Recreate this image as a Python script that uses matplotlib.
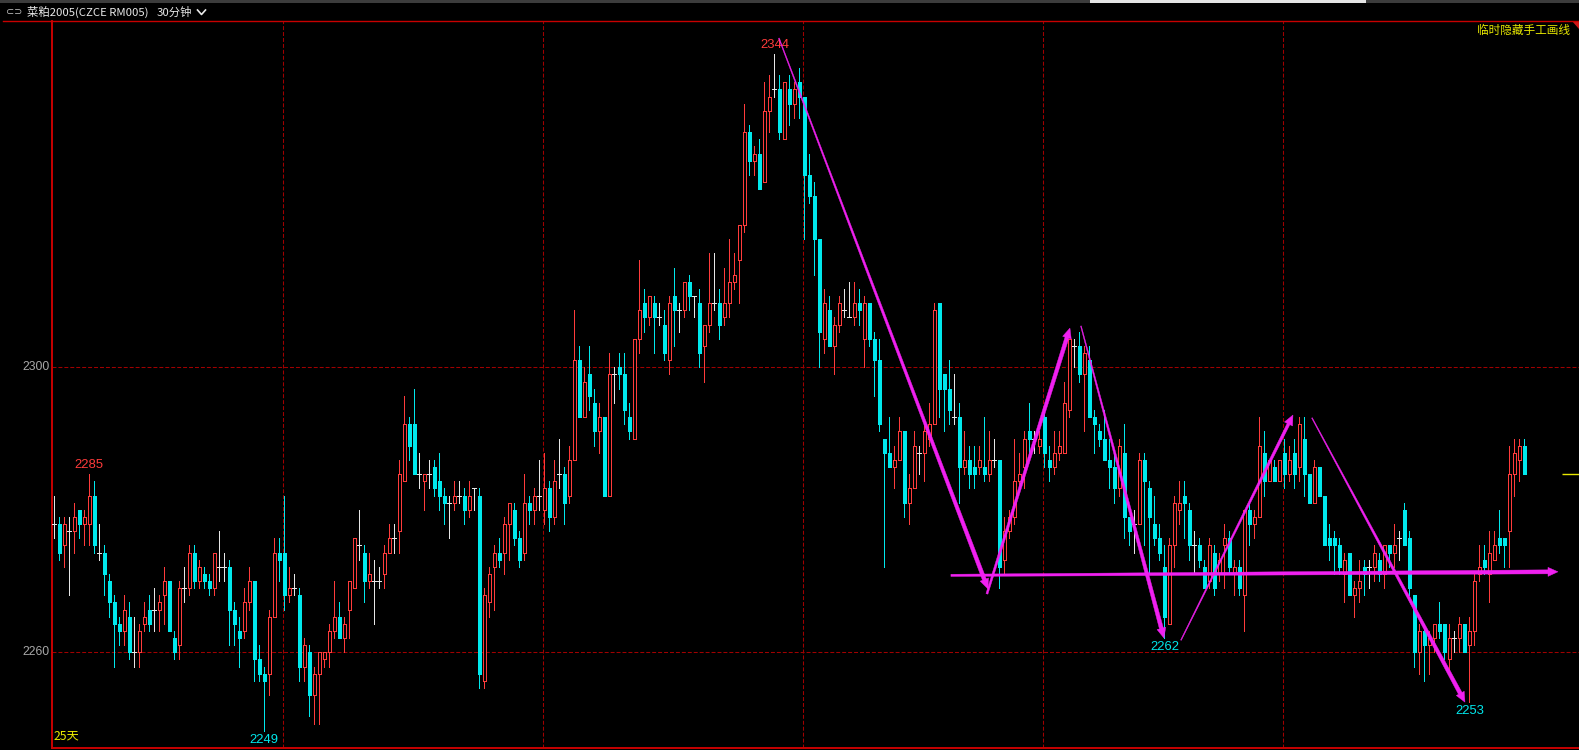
import numpy as np
import matplotlib
matplotlib.use("Agg")
import matplotlib.pyplot as plt
from matplotlib.patches import Rectangle, Polygon

W, H = 1579, 750
CJK = ["Noto Sans CJK SC", "DejaVu Sans"]

# ── OHLC, 30 min bars ──────────────────────────────────────────────────────────
opens = [
    2278, 2278, 2275, 2277, 2277, 2280, 2278, 2278, 2282, 2274, 2274, 2270, 2267, 2264, 2263, 2265,
    2260, 2260, 2264, 2266, 2266, 2266, 2268, 2270, 2262, 2261, 2269, 2269, 2274, 2270, 2271, 2270,
    2269, 2272, 2272, 2272, 2266, 2263, 2263, 2267, 2270, 2259, 2257, 2257, 2265, 2274, 2274, 2268,
    2269, 2268, 2258, 2260, 2254, 2257, 2259, 2260, 2263, 2265, 2262, 2266, 2269, 2275, 2274, 2270,
    2270, 2270, 2271, 2274, 2276, 2277, 2284, 2292, 2292, 2285, 2284, 2285, 2286, 2284, 2282, 2281,
    2281, 2282, 2282, 2280, 2283, 2282, 2256, 2267, 2272, 2274, 2274, 2278, 2280, 2276, 2274, 2281,
    2280, 2282, 2280, 2283, 2279, 2285, 2285, 2282, 2287, 2301, 2293, 2299, 2295, 2291, 2293, 2282,
    2299, 2300, 2299, 2293, 2290, 2304, 2309, 2307, 2309, 2307, 2306, 2301, 2310, 2308, 2308, 2312,
    2310, 2309, 2303, 2306, 2309, 2309, 2307, 2309, 2312, 2315, 2320, 2333, 2329, 2330, 2326, 2336,
    2339, 2339, 2332, 2339, 2337, 2340, 2338, 2327, 2324, 2318, 2304, 2308, 2303, 2306, 2308, 2307,
    2307, 2309, 2304, 2309, 2304, 2301, 2290, 2288, 2286, 2287, 2291, 2281, 2283, 2288, 2288, 2290,
    2292, 2309, 2299, 2297, 2293, 2293, 2286, 2287, 2286, 2286, 2286, 2285, 2287, 2287, 2273, 2277,
    2279, 2284, 2286, 2291, 2290, 2289, 2293, 2287, 2286, 2288, 2288, 2294, 2303, 2303, 2299, 2301,
    2293, 2291, 2290, 2287, 2286, 2283, 2288, 2279, 2278, 2278, 2287, 2283, 2278, 2276, 2272, 2264,
    2275, 2280, 2282, 2280, 2275, 2275, 2272, 2270, 2274, 2271, 2275, 2276, 2271, 2272, 2268, 2280,
    2278, 2279, 2288, 2284, 2286, 2284, 2288, 2285, 2288, 2286, 2290, 2285, 2281, 2286, 2282, 2276,
    2276, 2275, 2271, 2274, 2268, 2269, 2272, 2272, 2272, 2273, 2271, 2275, 2274, 2276, 2280, 2276,
    2268, 2260, 2263, 2261, 2262, 2264, 2264, 2259, 2262, 2262, 2264, 2261, 2263, 2271, 2273, 2271,
    2273, 2276, 2276, 2277, 2285, 2287, 2289,
]
highs = [
    2282, 2279, 2279, 2279, 2281, 2280, 2280, 2285, 2284, 2278, 2275, 2271, 2268, 2265, 2268, 2267,
    2265, 2264, 2267, 2268, 2269, 2268, 2272, 2270, 2263, 2270, 2272, 2275, 2275, 2273, 2272, 2271,
    2274, 2277, 2274, 2273, 2267, 2265, 2269, 2272, 2270, 2261, 2258, 2266, 2276, 2276, 2282, 2272,
    2271, 2269, 2262, 2261, 2258, 2260, 2260, 2264, 2270, 2267, 2265, 2270, 2276, 2280, 2275, 2274,
    2273, 2272, 2275, 2278, 2278, 2287, 2296, 2293, 2297, 2288, 2285, 2287, 2287, 2288, 2283, 2282,
    2284, 2284, 2283, 2284, 2283, 2283, 2269, 2272, 2275, 2276, 2279, 2281, 2281, 2277, 2285, 2282,
    2283, 2287, 2288, 2284, 2287, 2290, 2286, 2289, 2308, 2303, 2300, 2303, 2297, 2295, 2293, 2302,
    2300, 2302, 2302, 2295, 2304, 2315, 2311, 2310, 2310, 2309, 2308, 2310, 2314, 2309, 2312, 2313,
    2310, 2311, 2306, 2316, 2316, 2311, 2314, 2318, 2316, 2320, 2337, 2334, 2331, 2332, 2340, 2341,
    2344, 2341, 2340, 2341, 2340, 2342, 2338, 2330, 2326, 2318, 2311, 2310, 2307, 2310, 2311, 2312,
    2312, 2311, 2310, 2309, 2305, 2304, 2290, 2293, 2289, 2293, 2291, 2285, 2291, 2289, 2292, 2295,
    2309, 2309, 2299, 2301, 2299, 2295, 2291, 2289, 2289, 2289, 2293, 2291, 2290, 2287, 2279, 2280,
    2290, 2288, 2291, 2295, 2291, 2291, 2294, 2289, 2291, 2291, 2298, 2304, 2304, 2305, 2303, 2303,
    2294, 2292, 2294, 2290, 2288, 2290, 2292, 2279, 2280, 2288, 2288, 2284, 2282, 2278, 2275, 2276,
    2282, 2284, 2284, 2281, 2277, 2276, 2273, 2276, 2275, 2274, 2278, 2277, 2273, 2273, 2280, 2281,
    2280, 2293, 2291, 2287, 2287, 2287, 2290, 2289, 2290, 2293, 2293, 2285, 2287, 2286, 2282, 2278,
    2277, 2276, 2274, 2274, 2270, 2273, 2273, 2273, 2275, 2274, 2275, 2275, 2278, 2277, 2281, 2277,
    2268, 2264, 2264, 2263, 2264, 2267, 2264, 2264, 2263, 2265, 2264, 2265, 2271, 2275, 2275, 2277,
    2277, 2280, 2276, 2289, 2290, 2290, 2290,
]
lows = [
    2276, 2273, 2272, 2268, 2274, 2276, 2275, 2275, 2274, 2273, 2268, 2265, 2258, 2261, 2261, 2259,
    2258, 2258, 2263, 2263, 2263, 2263, 2264, 2263, 2259, 2259, 2267, 2268, 2269, 2269, 2269, 2268,
    2268, 2270, 2270, 2261, 2261, 2258, 2262, 2266, 2256, 2256, 2249, 2254, 2265, 2270, 2266, 2267,
    2268, 2256, 2256, 2251, 2250, 2250, 2258, 2258, 2262, 2262, 2260, 2262, 2269, 2273, 2267, 2269,
    2264, 2269, 2269, 2274, 2274, 2274, 2284, 2287, 2285, 2283, 2280, 2283, 2282, 2280, 2278, 2276,
    2280, 2281, 2278, 2279, 2280, 2255, 2255, 2265, 2266, 2272, 2271, 2273, 2275, 2272, 2273, 2278,
    2278, 2280, 2278, 2277, 2278, 2283, 2278, 2281, 2287, 2293, 2293, 2294, 2289, 2288, 2282, 2282,
    2295, 2297, 2292, 2290, 2290, 2302, 2305, 2306, 2302, 2306, 2301, 2299, 2303, 2305, 2307, 2308,
    2307, 2300, 2298, 2305, 2308, 2304, 2306, 2307, 2311, 2309, 2319, 2327, 2327, 2325, 2326, 2333,
    2338, 2332, 2332, 2334, 2335, 2335, 2318, 2323, 2313, 2300, 2302, 2303, 2299, 2305, 2307, 2307,
    2306, 2306, 2300, 2303, 2296, 2291, 2272, 2286, 2283, 2287, 2279, 2278, 2283, 2285, 2284, 2289,
    2292, 2293, 2291, 2292, 2292, 2281, 2285, 2283, 2283, 2285, 2284, 2284, 2286, 2269, 2271, 2276,
    2278, 2283, 2283, 2288, 2288, 2288, 2286, 2284, 2285, 2287, 2288, 2293, 2300, 2298, 2291, 2293,
    2288, 2289, 2287, 2283, 2281, 2282, 2276, 2275, 2274, 2278, 2275, 2271, 2275, 2273, 2262, 2264,
    2272, 2278, 2276, 2273, 2271, 2272, 2269, 2269, 2268, 2270, 2269, 2271, 2268, 2268, 2263, 2275,
    2276, 2279, 2282, 2284, 2284, 2284, 2283, 2284, 2283, 2284, 2282, 2281, 2281, 2282, 2275, 2273,
    2271, 2271, 2267, 2268, 2265, 2267, 2268, 2269, 2270, 2270, 2269, 2272, 2272, 2273, 2275, 2268,
    2258, 2257, 2256, 2257, 2260, 2262, 2259, 2257, 2260, 2260, 2260, 2253, 2261, 2270, 2271, 2267,
    2273, 2274, 2272, 2272, 2282, 2284, 2285,
]
closes = [
    2278, 2274, 2278, 2277, 2279, 2278, 2279, 2282, 2275, 2274, 2271, 2267, 2264, 2263, 2266, 2260,
    2260, 2263, 2265, 2264, 2266, 2267, 2270, 2263, 2260, 2269, 2269, 2274, 2270, 2272, 2270, 2269,
    2274, 2272, 2272, 2266, 2264, 2262, 2267, 2270, 2259, 2257, 2256, 2265, 2274, 2273, 2268, 2269,
    2269, 2258, 2261, 2254, 2257, 2260, 2260, 2263, 2265, 2262, 2264, 2270, 2276, 2275, 2270, 2271,
    2270, 2270, 2274, 2276, 2276, 2285, 2292, 2289, 2285, 2285, 2285, 2285, 2283, 2282, 2281, 2281,
    2282, 2282, 2280, 2282, 2283, 2257, 2268, 2271, 2274, 2273, 2278, 2281, 2276, 2273, 2281, 2280,
    2282, 2282, 2283, 2279, 2284, 2285, 2281, 2287, 2301, 2293, 2298, 2296, 2291, 2293, 2282, 2299,
    2299, 2299, 2294, 2291, 2304, 2308, 2307, 2310, 2307, 2307, 2302, 2309, 2308, 2308, 2312, 2310,
    2310, 2302, 2306, 2309, 2309, 2306, 2309, 2312, 2313, 2320, 2333, 2329, 2330, 2325, 2336, 2338,
    2339, 2333, 2340, 2337, 2339, 2338, 2327, 2324, 2318, 2305, 2309, 2303, 2306, 2309, 2308, 2307,
    2309, 2308, 2309, 2304, 2301, 2292, 2288, 2286, 2287, 2291, 2281, 2283, 2289, 2288, 2291, 2292,
    2308, 2297, 2297, 2294, 2293, 2286, 2287, 2285, 2285, 2287, 2285, 2287, 2287, 2272, 2277, 2279,
    2284, 2285, 2290, 2290, 2290, 2290, 2288, 2286, 2288, 2289, 2295, 2304, 2303, 2299, 2302, 2293,
    2292, 2290, 2287, 2286, 2283, 2289, 2279, 2277, 2278, 2287, 2284, 2279, 2276, 2274, 2265, 2275,
    2281, 2281, 2281, 2275, 2275, 2273, 2269, 2275, 2269, 2273, 2276, 2272, 2272, 2269, 2280, 2278,
    2279, 2289, 2284, 2287, 2284, 2287, 2285, 2287, 2285, 2292, 2285, 2281, 2286, 2282, 2275, 2275,
    2275, 2272, 2273, 2268, 2269, 2270, 2271, 2272, 2274, 2271, 2275, 2274, 2275, 2276, 2275, 2269,
    2260, 2263, 2261, 2262, 2264, 2263, 2260, 2262, 2262, 2264, 2260, 2263, 2270, 2272, 2272, 2274,
    2275, 2275, 2275, 2285, 2288, 2289, 2285,
]

day_starts = [46, 98, 150, 198, 246]
grid_prices = [2300, 2260]
ext_idx = [7, 42, 144, 222, 283]
ext_side = ["high", "low", "high", "low", "low"]

# hand-drawn trend lines (bar index, price)
seg_x0 = [144.9, 186.5, 205.3, 225.3, 251.5, 179.3]
seg_y0 = [2346.2, 2268.2, 2305.8, 2261.7, 2292.9, 2270.8]
seg_x1 = [186.7, 203.1, 221.9, 247.7, 282.1, 300.7]
seg_y1 = [2268.9, 2305.5, 2262.0, 2293.3, 2253.0, 2271.3]
seg_w0 = [0.8, 2.0, 0.8, 0.8, 0.8, 2.2]
seg_w1 = [4.0, 4.0, 4.0, 3.0, 4.0, 4.0]

RED = "#ff3b3b"
CYAN = "#00e8ec"
WHITE = "#e6e6e6"
GRID = "#a00000"
AXIS = "#c80000"
MAG = "#f020f0"
YEL = "#e8e800"

fig = plt.figure(figsize=(W / 100, H / 100), dpi=100, facecolor="black")
ax = fig.add_axes([52.3 / W, 2 / H, (W - 52.3) / W, (748 - 21) / H])
ax.set_facecolor("black")
ax.set_xlim(-0.4, 304.9)
ax.set_ylim(2246.57, 2348.6)
ax.set_xticks([])
ax.set_yticks([])
for s in ["top", "right"]:
    ax.spines[s].set_visible(False)
for s in ["left", "bottom"]:
    ax.spines[s].set_color(AXIS)
    ax.spines[s].set_linewidth(1.4)

# grid
for p in grid_prices:
    ax.axhline(p, color=GRID, lw=0.75, dashes=(3.8, 1.9), zorder=1)
    ax.annotate(str(p), xy=(0, p), xycoords=("axes fraction", "data"),
                xytext=(-2.2, 0), textcoords="offset points", ha="right", va="center",
                color="#a8a8a8", fontsize=8.7, family="Liberation Sans", annotation_clip=False)
for d in day_starts:
    ax.axvline(d - 0.35, color=GRID, lw=0.75, dashes=(3.8, 1.9), zorder=1)

# candles
bw = 0.62
for i in range(len(opens)):
    o, h, l, c = opens[i], highs[i], lows[i], closes[i]
    if c > o:
        col = RED
    elif c < o:
        col = CYAN
    else:
        col = WHITE
    ax.vlines(i, l, h, color=col, lw=0.72, antialiased=False, zorder=2)
    if c == o:
        ax.hlines(o, i - 0.4, i + 0.4, color=col, lw=0.72, antialiased=False, zorder=3)
    elif c > o:
        ax.add_patch(Rectangle((i - bw / 2, o), bw, c - o, fc="black", ec=col, lw=0.72,
                               antialiased=False, zorder=3))
    else:
        ax.add_patch(Rectangle((i - bw / 2, c), bw, o - c, fc=col, ec=col, lw=0.72,
                               antialiased=False, zorder=3))

# extreme labels
for i, side in zip(ext_idx, ext_side):
    if side == "high":
        ax.annotate(str(highs[i]), xy=(i, highs[i]), xytext=(0, 2.2), textcoords="offset points",
                    ha="center", va="bottom", color=RED, fontsize=9.4, family="Liberation Sans")
    else:
        ax.annotate(str(lows[i]), xy=(i, lows[i]), xytext=(0, -2.2), textcoords="offset points",
                    ha="center", va="top", color=CYAN, fontsize=9.4, family="Liberation Sans")

# hand-drawn lines: tapered shafts with arrowheads
def tapered(x0, y0, x1, y1, w0, w1, head_len=10, head_w=9):
    p0 = ax.transData.transform((x0, y0))
    p1 = ax.transData.transform((x1, y1))
    d = p1 - p0
    u = d / np.hypot(*d)
    n = np.array([-u[1], u[0]])
    hb = p1 - u * head_len
    pts = [p0 + n * w0 / 2, hb + n * w1 / 2, hb + n * head_w / 2, p1,
           hb - n * head_w / 2, hb - n * w1 / 2, p0 - n * w0 / 2]
    ax.add_patch(Polygon(ax.transData.inverted().transform(pts), closed=True,
                         fc=MAG, ec=MAG, lw=0.3, zorder=5))

for k in range(len(seg_x0)):
    tapered(seg_x0[k], seg_y0[k], seg_x1[k], seg_y1[k], seg_w0[k], seg_w1[k])

# last price marker
ax.hlines(closes[-1], 301.5, 304.9, color=YEL, lw=1.0, zorder=4)

ax.text(-0.2, 2247.4, "25天", color=YEL, fontsize=8.8, family=CJK, ha="left", va="bottom")

# ── frame / header decorations ─────────────────────────────────────────────────
fig.add_artist(Rectangle((0, 1 - 2.5 / H), 1, 2.5 / H, transform=fig.transFigure,
                         fc="#3c3c3c", ec="none"))
fig.add_artist(Rectangle((1090 / W, 1 - 2.5 / H), 276 / W, 2.5 / H, transform=fig.transFigure,
                         fc="#e4e4e4", ec="none"))
fig.add_artist(plt.Line2D([2.5 / W, 1], [1 - 21.3 / H] * 2, transform=fig.transFigure,
                          color=AXIS, lw=1.0))
fig.add_artist(Polygon([(1571.5 / W, 1 - 21.3 / H), (1, 1 - 21.3 / H), (1, 1 - 28.5 / H)],
                       closed=True, transform=fig.transFigure, fc="#d01818", ec="none"))

fig.text(6 / W, 1 - 12 / H, "⊂⊃", color="#bfbfbf", fontsize=7, family="DejaVu Sans",
         ha="left", va="center")
fig.text(27 / W, 1 - 12 / H, "菜粕2005(CZCE RM005)", color="#e8e8e8", fontsize=8.2,
         family=CJK, ha="left", va="center")
fig.text(157 / W, 1 - 12 / H, "30分钟", color="#e8e8e8", fontsize=8.2,
         family=CJK, ha="left", va="center")
fig.add_artist(plt.Line2D([197.5 / W, 201.5 / W, 205.5 / W],
                          [1 - 10 / H, 1 - 14.5 / H, 1 - 10 / H],
                          transform=fig.transFigure, color="#e8e8e8", lw=1.2))
fig.text(1570 / W, 1 - 30 / H, "临时隐藏手工画线", color=YEL, fontsize=8.4,
         family=CJK, ha="right", va="center")

fig.savefig("out.png", dpi=100, facecolor="black")
